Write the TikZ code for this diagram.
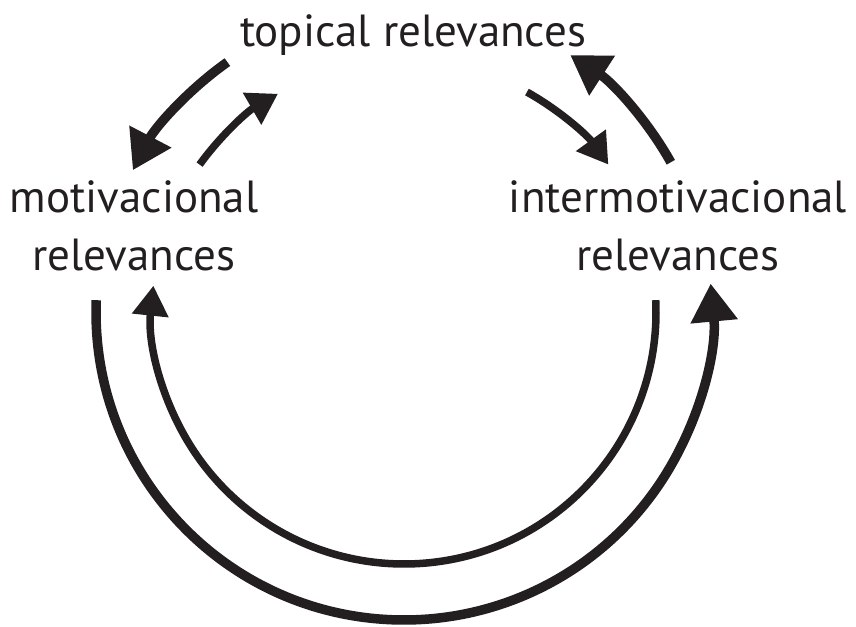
\documentclass[tikz,border=0pt]{standalone}
\usepackage{fontspec}
\setmainfont{PT Sans}
\usetikzlibrary{arrows.meta,calc}
\definecolor{ink}{HTML}{231F20}
\begin{document}
\begin{tikzpicture}[x=1pt,y=-1pt,
  lbl/.style={font=\fontsize{45}{58}\selectfont, text=ink, align=center, inner sep=0pt},
  thickarc/.style={draw=ink, line width=9.5pt, -{Triangle[length=38pt,width=45pt]}},
  thinarc/.style={draw=ink, line width=7.5pt, -{Triangle[length=30pt,width=35pt]}}]
\useasboundingbox (0,0) rectangle (856,626);
% common centre of all the arcs
\coordinate (c) at (404,312);

% labels (base = baseline of the last line)
\node[lbl, anchor=base] (topical) at (413,47) {topical relevances};
\node[lbl, anchor=base] (motiv) at (134,270) {motivacional\\relevances};
\node[lbl, anchor=base] (inter) at (678,270) {intermotivacional\\relevances};

% start points of the arcs
\coordinate (tl1) at ($(c)+(-125.25:306)$);
\coordinate (tl2) at ($(c)+(-144.2:252)$);
\coordinate (tr2) at ($(c)+(-60.8:252)$);
\coordinate (tr1) at ($(c)+(-29.3:306)$);
\coordinate (bo) at ($(c)+(182.2:308)$);
\coordinate (bi) at ($(c)+(-2.7:252)$);

% upper arrows
\draw[thickarc] (tl1) arc[start angle=-125.25, end angle=-152.4, radius=306];
\draw[thinarc]  (tl2) arc[start angle=-144.2, end angle=-120, radius=252];
\draw[thinarc]  (tr2) arc[start angle=-60.8, end angle=-35.8, radius=252];
\draw[thickarc] (tr1) arc[start angle=-29.3, end angle=-57.1, radius=306];

% lower arrows
\draw[thickarc] (bo) arc[start angle=182.2, end angle=-5.3, radius=308];
\draw[thinarc]  (bi) arc[start angle=-2.7, end angle=186, radius=252];
\end{tikzpicture}
\end{document}
